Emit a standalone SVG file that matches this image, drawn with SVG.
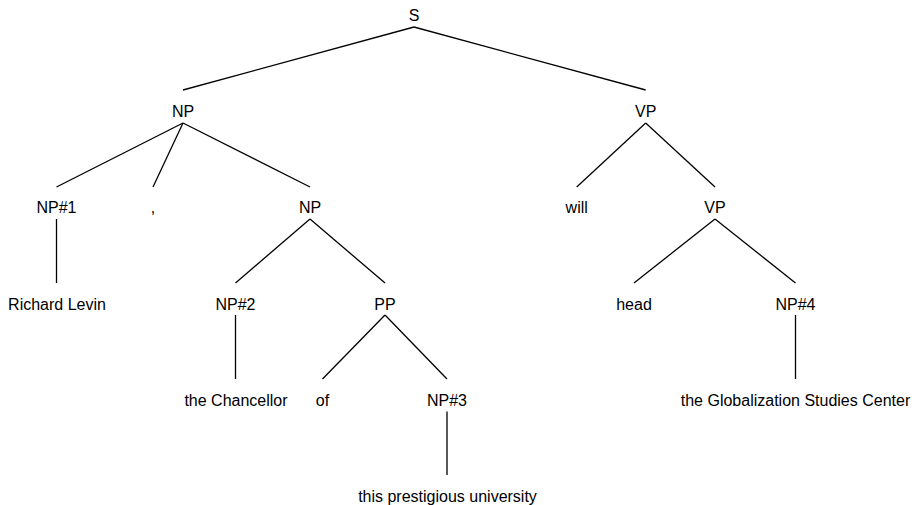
<svg xmlns="http://www.w3.org/2000/svg" width="912" height="505" viewBox="0 0 912 505">
<style>
text{font-family:"Liberation Sans",Arial,Helvetica,sans-serif;font-size:16px;fill:#000;text-anchor:middle}
line{stroke:#000;stroke-width:1.3}
</style>
<rect width="912" height="505" fill="#fff"/>
<g id="connectors">
<line x1="414" y1="27" x2="183" y2="90"/>
<line x1="414" y1="27" x2="645.7" y2="90"/>
<line x1="183" y1="123" x2="56.5" y2="187"/>
<line x1="183" y1="123" x2="153" y2="187"/>
<line x1="183" y1="123" x2="310" y2="187"/>
<line x1="645.7" y1="123" x2="576.7" y2="187"/>
<line x1="645.7" y1="123" x2="715" y2="187"/>
<line x1="56.5" y1="219" x2="56.5" y2="283"/>
<line x1="310" y1="219" x2="235.5" y2="283"/>
<line x1="310" y1="219" x2="385" y2="283"/>
<line x1="715" y1="219" x2="634" y2="283"/>
<line x1="715" y1="219" x2="795.5" y2="283"/>
<line x1="235.5" y1="315" x2="235.5" y2="379"/>
<line x1="385" y1="315" x2="322.5" y2="379"/>
<line x1="385" y1="315" x2="447" y2="379"/>
<line x1="795.5" y1="315" x2="795.5" y2="379"/>
<line x1="447" y1="411.5" x2="447" y2="475"/>
</g>
<g id="n-S"><text x="414" y="20.5">S</text></g>
<g id="n-NP"><text x="183" y="117">NP</text></g>
<g id="n-VP"><text x="645.7" y="117">VP</text></g>
<g id="n-NP1"><text x="56.5" y="213">NP#1</text></g>
<g id="n-comma"><text x="153" y="213">,</text></g>
<g id="n-NPinner"><text x="310" y="213">NP</text></g>
<g id="n-will"><text x="576.7" y="213">will</text></g>
<g id="n-VP2"><text x="715" y="213">VP</text></g>
<g id="n-RichardLevin"><text x="57" y="309.5">Richard Levin</text></g>
<g id="n-NP2"><text x="235.5" y="309.5">NP#2</text></g>
<g id="n-PP"><text x="385" y="309.5">PP</text></g>
<g id="n-head"><text x="634" y="309.5">head</text></g>
<g id="n-NP4"><text x="795.5" y="309.5">NP#4</text></g>
<g id="n-Chancellor"><text x="236" y="406">the Chancellor</text></g>
<g id="n-of"><text x="322.5" y="406">of</text></g>
<g id="n-NP3"><text x="447" y="406">NP#3</text></g>
<g id="n-GSC"><text x="795.5" y="406">the Globalization Studies Center</text></g>
<g id="n-univ"><text x="447.5" y="502">this prestigious university</text></g>
</svg>
